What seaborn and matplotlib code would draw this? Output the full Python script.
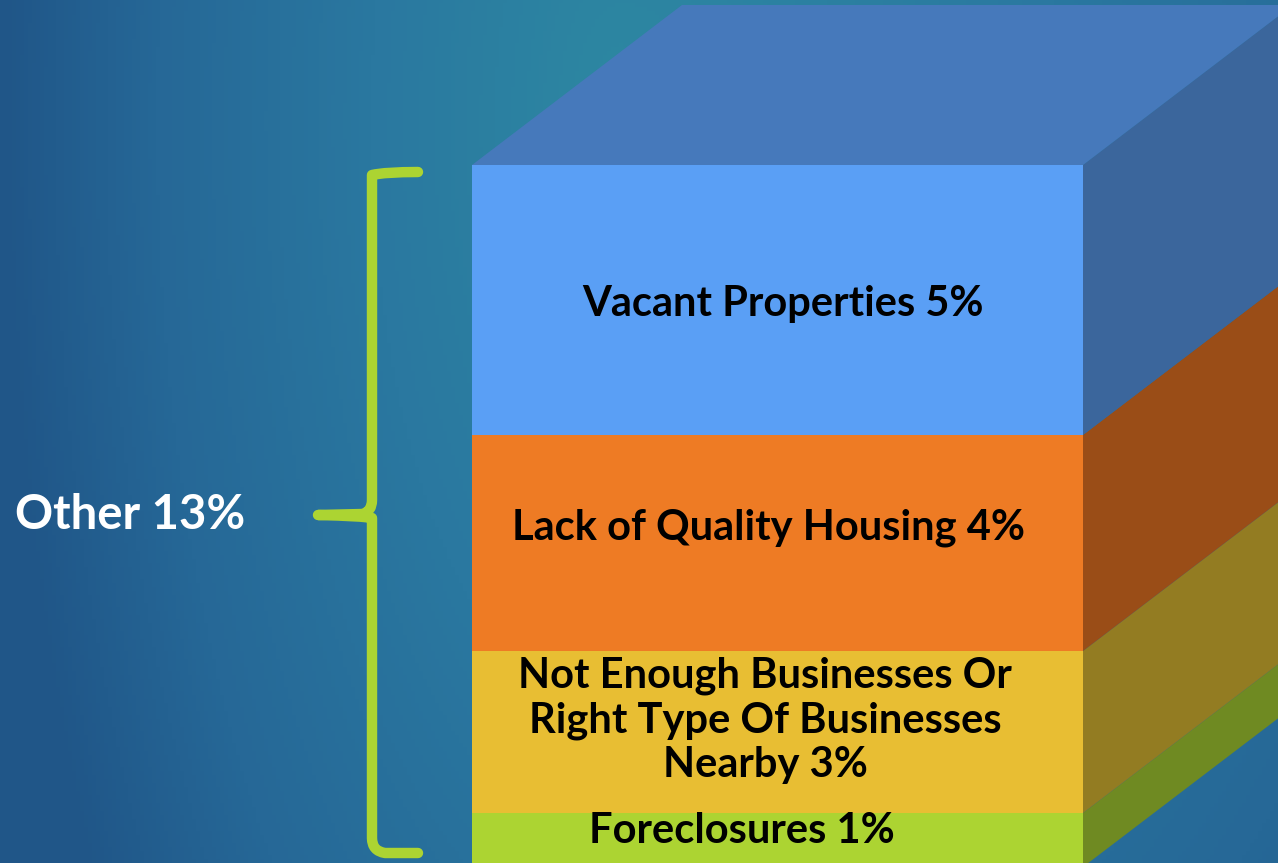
import numpy as np
import pandas as pd
import matplotlib
matplotlib.use("Agg")
import matplotlib.pyplot as plt
from matplotlib.patches import Polygon, PathPatch
from matplotlib.path import Path
from matplotlib.colors import LinearSegmentedColormap
import seaborn as sns

# ---------------- data ----------------
categories = ["Foreclosures", "Not Enough Businesses Or\nRight Type Of Businesses\nNearby",
              "Lack of Quality Housing", "Vacant Properties"]
values = [1, 3, 4, 5]
total_label = "Other 13%"
front_colors = ["#acd432", "#e8be33", "#ee7b24", "#5a9ff5"]
side_colors = ["#6f8a22", "#937c22", "#9a4d17", "#3b669c"]
top_color = "#4679bb"

sns.set_theme(style="white")
plt.rcParams['font.family'] = ['Lato', 'DejaVu Sans']

W, H = 1278, 863
fig = plt.figure(figsize=(W / 100, H / 100), dpi=100)

# background axes (pixel coordinates)
bg = fig.add_axes([0, 0, 1, 1])
bg.set_xlim(0, W)
bg.set_ylim(H, 0)
bg.axis("off")
yy, xx = np.mgrid[0:H:4, 0:W:4]
dxg = np.where(xx < 620, (620 - xx) / 620.0, (xx - 620) / 1100.0)
d = np.sqrt(dxg ** 2 + ((yy - 120) / 1500.0) ** 2)
d = np.clip(d, 0, 1)
cmap = LinearSegmentedColormap.from_list(
    "bg", [(0, "#2d88a2"), (0.4, "#2a78a0"), (0.75, "#266897"), (1.0, "#205688")])
bg.imshow(d, cmap=cmap, extent=(0, W, H, 0), aspect="auto", zorder=0)

# bar axes (data coordinates: x in bar widths, y in percent)
x0_px, x1_px = 472, 1083
px_per_pct = 54.0
base_px = 867
bw_px = x1_px - x0_px
ax = fig.add_axes([0, 0, 1, 1])
ax.patch.set_alpha(0)
ax.axis("off")

cum = np.cumsum(values)
bottoms = cum - np.array(values)
df = pd.DataFrame({"pos": [0.5] * len(values), "cum": cum, "cat": categories})

# draw cumulative bars largest first so the stack shows
for i in reversed(range(len(values))):
    sns.barplot(data=df.iloc[[i]], x="pos", y="cum", native_scale=True, width=1.0,
                color=front_colors[i], saturation=1, ax=ax, linewidth=0, zorder=3)

ax.set_xlim(-x0_px / bw_px, (W - x0_px) / bw_px)
ax.set_ylim((base_px - H) / px_per_pct, base_px / px_per_pct)
ax.axis("off")

dx = 210 / bw_px
dy = 160 / px_per_pct
for i in range(len(values)):
    y0, y1 = bottoms[i], cum[i]
    ax.add_patch(Polygon([(1, y0), (1 + dx, y0 + dy), (1 + dx, y1 + dy), (1, y1)],
                         closed=True, facecolor=side_colors[i], edgecolor="none", zorder=2))
top = cum[-1]
ax.add_patch(Polygon([(0, top), (1, top), (1 + dx, top + dy), (dx, top + dy)],
                     closed=True, facecolor=top_color, edgecolor="none", zorder=2))

# labels (positions in pixels converted to data)
def px2d(x, y):
    return (x - x0_px) / bw_px, (base_px - y) / px_per_pct

label_pos = [(742, 831), (765, 720), (768, 528), (783, 304)]
for i, (lx, ly) in enumerate(label_pos):
    tx, ty = px2d(lx, ly)
    ax.text(tx, ty, f"{categories[i]} {values[i]}%", ha="center", va="center",
            fontsize=30, fontweight="bold", color="black", zorder=5, linespacing=1.2)

# brace in pixel coords on overlay
ov = fig.add_axes([0, 0, 1, 1])
ov.patch.set_alpha(0)
ov.set_xlim(0, W)
ov.set_ylim(H, 0)
ov.axis("off")
verts = [(418, 172), (385, 172), (372, 175), (372, 190),
         (372, 500), (372, 512), (362, 514), (318, 515),
         (362, 516), (372, 518), (372, 532),
         (372, 838), (372, 851), (385, 853), (418, 853)]
codes = [Path.MOVETO, Path.CURVE3, Path.CURVE3, Path.LINETO,
         Path.LINETO, Path.CURVE3, Path.CURVE3, Path.LINETO,
         Path.CURVE3, Path.CURVE3, Path.LINETO,
         Path.LINETO, Path.CURVE3, Path.CURVE3, Path.LINETO]
ov.add_patch(PathPatch(Path(verts, codes), facecolor="none", edgecolor="#acd432",
                       linewidth=7.5, capstyle="round", joinstyle="round"))
ov.text(15, 515, total_label, ha="left", va="center", fontsize=34, fontweight="bold",
        color="white")

fig.savefig("out.png", dpi=100)
